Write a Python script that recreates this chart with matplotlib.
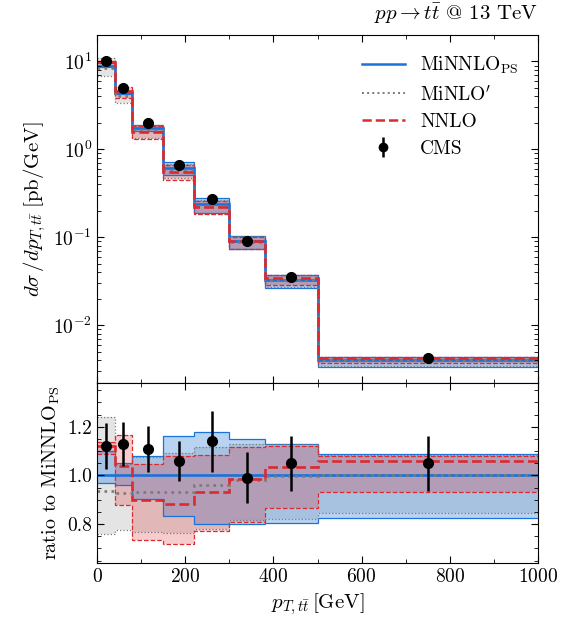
import matplotlib
matplotlib.use("Agg")
import matplotlib.pyplot as plt
import numpy as np
from matplotlib.ticker import MultipleLocator, LogLocator, NullFormatter, FormatStrFormatter
from matplotlib.lines import Line2D

# Bins and data
edges = [0, 40, 80, 150, 220, 300, 380, 500, 1000]
centers = [20, 60, 115, 185, 260, 340, 440, 750]

cms_xsec = [10.0, 5.0, 1.97, 0.66, 0.27, 0.090, 0.035, 0.0042]
cms_ratio = [1.12, 1.13, 1.11, 1.06, 1.14, 0.99, 1.05, 1.05]
cms_ratio_err = [0.094, 0.09, 0.094, 0.083, 0.125, 0.105, 0.113, 0.112]

minnlo_xsec = [8.9, 4.4, 1.77, 0.62, 0.236, 0.091, 0.033, 0.0040]
minnlo_up = [1.10, 1.05, 1.08, 1.16, 1.18, 1.15, 1.13, 1.09]
minnlo_dn = [0.97, 0.96, 0.905, 0.835, 0.80, 0.80, 0.805, 0.826]

minlo_ratio = [0.937, 0.928, 0.93, 0.93, 0.96, 0.983, 0.997, 1.003]
minlo_up = [1.24, 1.045, 1.075, 1.093, 1.118, 1.128, 1.128, 1.083]
minlo_dn = [0.76, 0.775, 0.767, 0.764, 0.78, 0.817, 0.822, 0.847]

nnlo_ratio = [1.12, 1.04, 0.90, 0.882, 0.933, 0.986, 1.035, 1.058]
nnlo_up = [1.139, 1.167, 1.046, 1.08, 1.083, 1.118, 1.12, 1.079]
nnlo_dn = [1.09, 0.878, 0.733, 0.72, 0.77, 0.808, 0.868, 0.93]

plt.rcParams["font.family"] = "serif"
plt.rcParams["font.serif"] = ["cmr10"]
plt.rcParams["mathtext.fontset"] = "cm"
plt.rcParams["axes.formatter.use_mathtext"] = True
plt.rcParams["axes.unicode_minus"] = False

blue = "#1a73d9"
red = "#dc2a2e"
grey = "#7a7a7a"

fig = plt.figure(figsize=(5.64, 6.21), dpi=100)
ax = fig.add_axes([0.172, 0.3833, 0.782, 0.5603])
rax = fig.add_axes([0.172, 0.0934, 0.782, 0.2899], sharex=ax)

m = np.array(minnlo_xsec)

# (ratio central, up, down, colour, linestyle, fill alpha)
minlo = (np.array(minlo_ratio), np.array(minlo_up), np.array(minlo_dn), grey, ":", 0.2)
nnlo = (np.array(nnlo_ratio), np.array(nnlo_up), np.array(nnlo_dn), red, "--", 0.24)
minnlo = (np.ones(len(m)), np.array(minnlo_up), np.array(minnlo_dn), blue, "-", 0.3)

for scale, a in [(m, ax), (np.ones(len(m)), rax)]:
    for cen, up, dn, col, ls, alpha in (minlo, minnlo, nnlo):
        a.stairs(up * scale, edges, baseline=dn * scale, fill=True,
                 color=col, alpha=alpha, lw=0)
    for cen, up, dn, col, ls, alpha in (minnlo, minlo, nnlo):
        a.stairs(up * scale, edges, color=col, ls=ls, lw=0.9, baseline=None)
        a.stairs(dn * scale, edges, color=col, ls=ls, lw=0.9, baseline=None)
    for cen, up, dn, col, ls, alpha in (minnlo, minlo, nnlo):
        a.stairs(cen * scale, edges, color=col, ls=ls, lw=1.9, baseline=None)

cms_err = np.array(cms_xsec) * np.array(cms_ratio_err) / np.array(cms_ratio)
ax.errorbar(centers, cms_xsec, yerr=cms_err, fmt="o", color="black",
            ms=7, elinewidth=1.8, capsize=0, zorder=5)
rax.errorbar(centers, cms_ratio, yerr=cms_ratio_err, fmt="o", color="black",
             ms=7, elinewidth=1.8, capsize=0, zorder=5)

# main panel
ax.set_yscale("log")
ax.set_ylim(2.2e-3, 20)
ax.set_xlim(0, 1000)
ax.yaxis.set_major_locator(LogLocator(base=10, numticks=10))
ax.yaxis.set_minor_locator(LogLocator(base=10, subs=np.arange(2, 10), numticks=20))
ax.yaxis.set_minor_formatter(NullFormatter())
ax.set_ylabel(r"$d\sigma\,/dp_{T,t\bar{t}}\;[\mathrm{pb/GeV}]$", fontsize=15)
plt.setp(ax.get_xticklabels(), visible=False)

# ratio panel
rax.set_ylim(0.64, 1.38)
rax.yaxis.set_major_locator(MultipleLocator(0.2))
rax.yaxis.set_minor_locator(MultipleLocator(0.05))
rax.xaxis.set_major_locator(MultipleLocator(200))
rax.xaxis.set_minor_locator(MultipleLocator(100))
rax.yaxis.set_major_formatter(FormatStrFormatter("%.1f"))
rax.set_ylabel(r"ratio to MiNNLO$_{\mathrm{PS}}$", fontsize=14.5)
rax.set_xlabel(r"$p_{T,t\bar{t}}\,[\mathrm{GeV}]$", fontsize=15)

for a in (ax, rax):
    a.tick_params(which="both", direction="in", top=True, right=True,
                  labelsize=14)
    a.tick_params(which="major", length=5)
    a.tick_params(which="minor", length=3)

ax.text(1.0, 1.025, r"$pp \to t\bar{t}$ @ 13 TeV", transform=ax.transAxes,
        ha="right", va="bottom", fontsize=15)

handles = [
    Line2D([], [], color=blue, lw=1.8, ls="-"),
    Line2D([], [], color=grey, lw=1.4, ls=":"),
    Line2D([], [], color=red, lw=1.8, ls="--"),
    ax.errorbar([], [], yerr=[], fmt="o", color="black", ms=6, elinewidth=1.8),
]
labels = [r"MiNNLO$_{\mathrm{PS}}$", r"MiNLO$'$", "NNLO", "CMS"]
ax.legend(handles, labels, loc="upper right", frameon=False, fontsize=14,
          handlelength=2.2, borderaxespad=0.6, labelspacing=0.45)

fig.savefig("out.png", dpi=100)
